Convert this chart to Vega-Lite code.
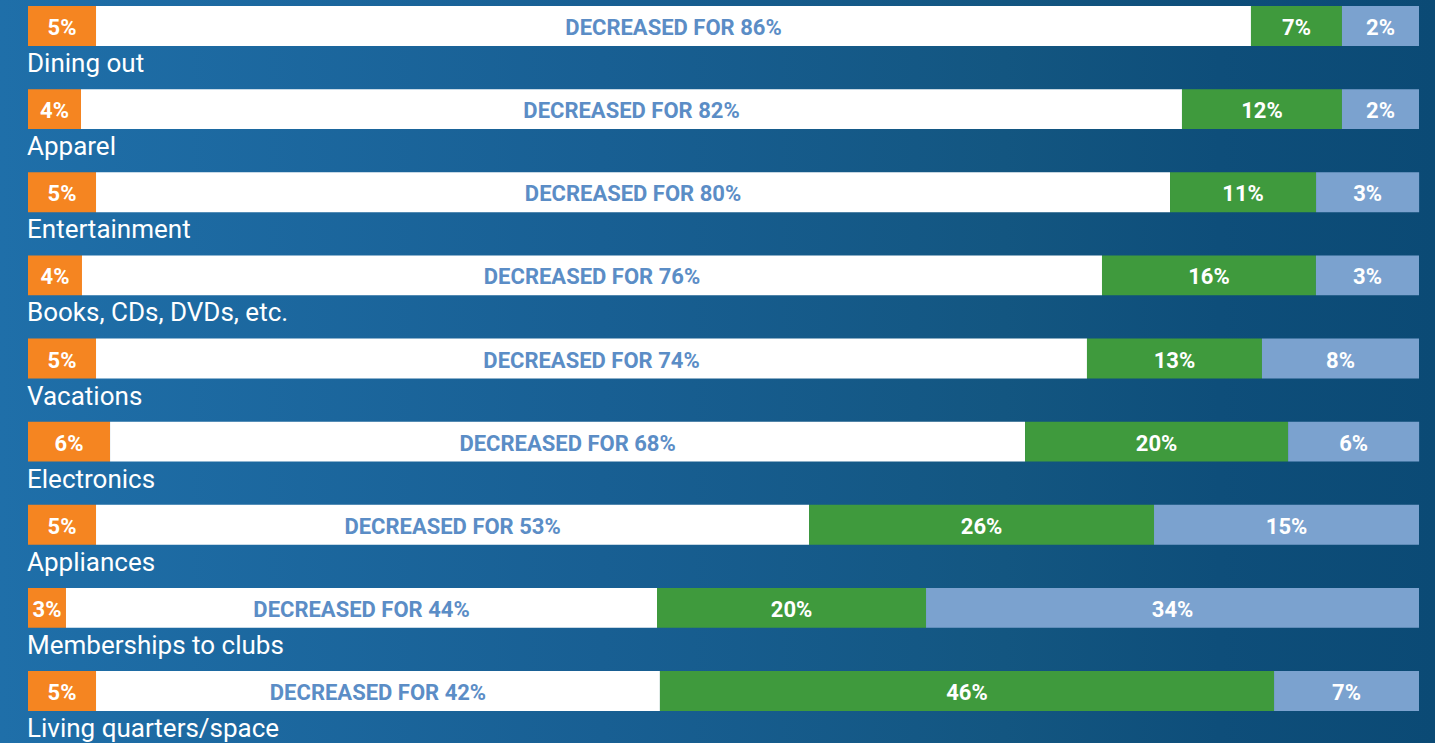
{
  "$schema": "https://vega.github.io/schema/vega-lite/v6.json",
  "width": 1435,
  "height": 743,
  "autosize": "none",
  "padding": 0,
  "background": "#165a8b",
  "view": {
    "stroke": null,
    "fill": {
      "gradient": "linear",
      "x1": 0, "y1": 0, "x2": 1, "y2": 0,
      "stops": [
        {"offset": 0, "color": "#1f6fa9"},
        {"offset": 0.42, "color": "#185f93"},
        {"offset": 0.7, "color": "#135681"},
        {"offset": 0.85, "color": "#0e4e7a"},
        {"offset": 1, "color": "#0b4a75"}
      ]
    }
  },
  "data": {
    "values": [
      {"cat": "Dining out", "k": 1, "seg": "Increased", "share": 4.89, "label": "5%"},
      {"cat": "Dining out", "k": 2, "seg": "Decreased", "share": 83.03, "label": "DECREASED FOR 86%"},
      {"cat": "Dining out", "k": 3, "seg": "Stayed the same", "share": 6.54, "label": "7%"},
      {"cat": "Dining out", "k": 4, "seg": "Not applicable", "share": 5.54, "label": "2%"},
      {"cat": "Apparel", "k": 1, "seg": "Increased", "share": 3.81, "label": "4%"},
      {"cat": "Apparel", "k": 2, "seg": "Decreased", "share": 79.15, "label": "DECREASED FOR 82%"},
      {"cat": "Apparel", "k": 3, "seg": "Stayed the same", "share": 11.5, "label": "12%"},
      {"cat": "Apparel", "k": 4, "seg": "Not applicable", "share": 5.54, "label": "2%"},
      {"cat": "Entertainment", "k": 1, "seg": "Increased", "share": 4.89, "label": "5%"},
      {"cat": "Entertainment", "k": 2, "seg": "Decreased", "share": 77.21, "label": "DECREASED FOR 80%"},
      {"cat": "Entertainment", "k": 3, "seg": "Stayed the same", "share": 10.5, "label": "11%"},
      {"cat": "Entertainment", "k": 4, "seg": "Not applicable", "share": 7.41, "label": "3%"},
      {"cat": "Books, CDs, DVDs, etc.", "k": 1, "seg": "Increased", "share": 3.88, "label": "4%"},
      {"cat": "Books, CDs, DVDs, etc.", "k": 2, "seg": "Decreased", "share": 73.33, "label": "DECREASED FOR 76%"},
      {"cat": "Books, CDs, DVDs, etc.", "k": 3, "seg": "Stayed the same", "share": 15.38, "label": "16%"},
      {"cat": "Books, CDs, DVDs, etc.", "k": 4, "seg": "Not applicable", "share": 7.41, "label": "3%"},
      {"cat": "Vacations", "k": 1, "seg": "Increased", "share": 4.89, "label": "5%"},
      {"cat": "Vacations", "k": 2, "seg": "Decreased", "share": 71.24, "label": "DECREASED FOR 74%"},
      {"cat": "Vacations", "k": 3, "seg": "Stayed the same", "share": 12.58, "label": "13%"},
      {"cat": "Vacations", "k": 4, "seg": "Not applicable", "share": 11.29, "label": "8%"},
      {"cat": "Electronics", "k": 1, "seg": "Increased", "share": 5.9, "label": "6%"},
      {"cat": "Electronics", "k": 2, "seg": "Decreased", "share": 65.78, "label": "DECREASED FOR 68%"},
      {"cat": "Electronics", "k": 3, "seg": "Stayed the same", "share": 18.91, "label": "20%"},
      {"cat": "Electronics", "k": 4, "seg": "Not applicable", "share": 9.42, "label": "6%"},
      {"cat": "Appliances", "k": 1, "seg": "Increased", "share": 4.89, "label": "5%"},
      {"cat": "Appliances", "k": 2, "seg": "Decreased", "share": 51.26, "label": "DECREASED FOR 53%"},
      {"cat": "Appliances", "k": 3, "seg": "Stayed the same", "share": 24.8, "label": "26%"},
      {"cat": "Appliances", "k": 4, "seg": "Not applicable", "share": 19.05, "label": "15%"},
      {"cat": "Memberships to clubs", "k": 1, "seg": "Increased", "share": 2.73, "label": "3%"},
      {"cat": "Memberships to clubs", "k": 2, "seg": "Decreased", "share": 42.49, "label": "DECREASED FOR 44%"},
      {"cat": "Memberships to clubs", "k": 3, "seg": "Stayed the same", "share": 19.34, "label": "20%"},
      {"cat": "Memberships to clubs", "k": 4, "seg": "Not applicable", "share": 35.44, "label": "34%"},
      {"cat": "Living quarters/space", "k": 1, "seg": "Increased", "share": 4.89, "label": "5%"},
      {"cat": "Living quarters/space", "k": 2, "seg": "Decreased", "share": 40.54, "label": "DECREASED FOR 42%"},
      {"cat": "Living quarters/space", "k": 3, "seg": "Stayed the same", "share": 44.15, "label": "46%"},
      {"cat": "Living quarters/space", "k": 4, "seg": "Not applicable", "share": 10.42, "label": "7%"}
    ]
  },
  "encoding": {
    "y": {
      "field": "cat",
      "type": "nominal",
      "sort": ["Dining out", "Apparel", "Entertainment", "Books, CDs, DVDs, etc.", "Vacations", "Electronics", "Appliances", "Memberships to clubs", "Living quarters/space"],
      "axis": null,
      "scale": {"range": [6, 711], "paddingInner": 0.5188, "paddingOuter": 0}
    }
  },
  "layer": [
    {
      "mark": {"type": "bar", "cornerRadius": 0},
      "encoding": {
        "x": {
          "field": "share",
          "type": "quantitative",
          "stack": "zero",
          "axis": null,
          "scale": {"domain": [0, 100], "range": [28, 1419], "nice": false, "zero": true}
        },
        "order": {"field": "k", "type": "quantitative"},
        "color": {
          "field": "seg",
          "type": "nominal",
          "legend": null,
          "scale": {
            "domain": ["Increased", "Decreased", "Stayed the same", "Not applicable"],
            "range": ["#f58521", "#ffffff", "#3f9a3d", "#7ba2cf"]
          }
        }
      }
    },
    {
      "mark": {"type": "text", "font": "Roboto", "fontWeight": "bold", "fontSize": 22, "align": "center", "baseline": "alphabetic", "dy": 9},
      "encoding": {
        "x": {"field": "share", "type": "quantitative", "stack": "zero", "bandPosition": 0.5},
        "order": {"field": "k", "type": "quantitative"},
        "text": {"field": "label", "type": "nominal"},
        "color": {
          "condition": {"test": "datum.seg === 'Decreased'", "value": "#5b8dc6"},
          "value": "#ffffff"
        }
      }
    },
    {
      "transform": [{"filter": "datum.k === 1"}],
      "mark": {"type": "text", "font": "Roboto", "fontSize": 26, "align": "left", "baseline": "alphabetic", "dy": 46, "dx": -1, "color": "#ffffff"},
      "encoding": {
        "x": {"datum": 0, "type": "quantitative"},
        "text": {"field": "cat", "type": "nominal"}
      }
    }
  ]
}
